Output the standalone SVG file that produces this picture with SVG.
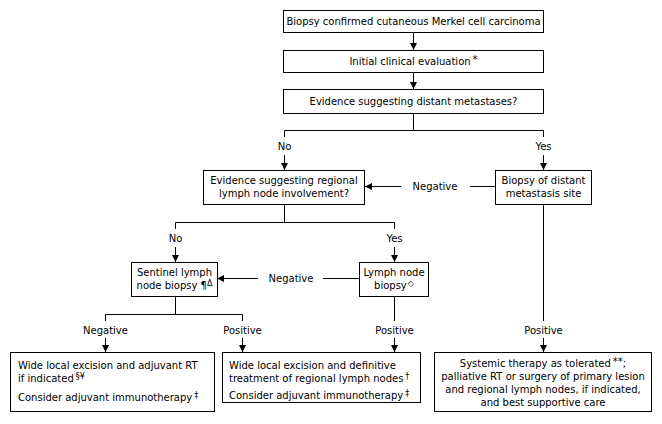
<svg xmlns="http://www.w3.org/2000/svg" width="662" height="424" viewBox="0 0 662 424">
<defs>
<marker id="ah" markerWidth="8" markerHeight="8" refX="7" refY="4" orient="auto" markerUnits="userSpaceOnUse">
<path d="M0,0.5 L7,4 L0,7.5 Z" fill="#000"/>
</marker>
<style>
text{font-family:"DejaVu Sans",Verdana,sans-serif;font-size:10px;fill:#000}
.c{text-anchor:middle}
.box{fill:#fff;stroke:#000;stroke-width:1}
.ln{fill:none;stroke:#000;stroke-width:1}
.ar{fill:none;stroke:#000;stroke-width:1;marker-end:url(#ah)}
.sup{font-size:8px}
</style>
</defs>
<rect width="662" height="424" fill="#fff"/>
<g id="connectors">
<line class="ar" x1="413.5" y1="32" x2="413.5" y2="50"/>
<line class="ar" x1="413.5" y1="72" x2="413.5" y2="89"/>
<polyline class="ln" points="413.5,113 413.5,130.5 284.5,130.5 284.5,137"/>
<polyline class="ln" points="413.5,130.5 543.5,130.5 543.5,137"/>
<line class="ar" x1="284.5" y1="155" x2="284.5" y2="170"/>
<line class="ar" x1="543.5" y1="155" x2="543.5" y2="170"/>
<line class="ln" x1="495" y1="186.5" x2="470" y2="186.5"/>
<line class="ar" x1="401" y1="186.5" x2="365" y2="186.5"/>
<polyline class="ln" points="284.5,204 284.5,222.5 175.5,222.5 175.5,229"/>
<polyline class="ln" points="284.5,222.5 394.5,222.5 394.5,229"/>
<line class="ar" x1="175.5" y1="247" x2="175.5" y2="262"/>
<line class="ar" x1="394.5" y1="247" x2="394.5" y2="262"/>
<line class="ln" x1="359" y1="278.5" x2="323" y2="278.5"/>
<line class="ar" x1="258" y1="278.5" x2="217" y2="278.5"/>
<polyline class="ln" points="175.5,296 175.5,314.5 105.5,314.5 105.5,321"/>
<polyline class="ln" points="175.5,314.5 242.5,314.5 242.5,321"/>
<line class="ln" x1="394.5" y1="296" x2="394.5" y2="321"/>
<line class="ln" x1="543.5" y1="204" x2="543.5" y2="321"/>
<line class="ar" x1="105.5" y1="338" x2="105.5" y2="352"/>
<line class="ar" x1="242.5" y1="338" x2="242.5" y2="352"/>
<line class="ar" x1="394.5" y1="338" x2="394.5" y2="352"/>
<line class="ar" x1="543.5" y1="338" x2="543.5" y2="352"/>
<text class="c" x="284.5" y="150">No</text>
<text class="c" x="543.5" y="150">Yes</text>
<text class="c" x="435" y="190">Negative</text>
<text class="c" x="175.5" y="242">No</text>
<text class="c" x="394.5" y="242">Yes</text>
<text class="c" x="291" y="282">Negative</text>
<text class="c" x="105.5" y="334">Negative</text>
<text class="c" x="242.5" y="334">Positive</text>
<text class="c" x="394.5" y="334">Positive</text>
<text class="c" x="543.5" y="334">Positive</text>
</g>
<g id="n1">
<rect class="box" x="283.5" y="10.5" width="260" height="22"/>
<text class="c" x="413.5" y="25">Biopsy confirmed cutaneous Merkel cell carcinoma</text>
</g>
<g id="n2">
<rect class="box" x="283.5" y="50.5" width="260" height="22"/>
<text class="c" x="413.5" y="65">Initial clinical evaluation<tspan dx="2" dy="-2">*</tspan></text>
</g>
<g id="n3">
<rect class="box" x="283.5" y="89.5" width="260" height="24"/>
<text class="c" x="413.5" y="105">Evidence suggesting distant metastases?</text>
</g>
<g id="n4">
<rect class="box" x="203.5" y="170.5" width="161" height="34"/>
<text class="c" x="284" y="184">Evidence suggesting regional</text>
<text class="c" x="284" y="197">lymph node involvement?</text>
</g>
<g id="n5">
<rect class="box" x="495.5" y="170.5" width="96" height="34"/>
<text class="c" x="543.5" y="184">Biopsy of distant</text>
<text class="c" x="543.5" y="197">metastasis site</text>
</g>
<g id="n6">
<rect class="box" x="131.5" y="262.5" width="86" height="34"/>
<text class="c" x="174.5" y="276">Sentinel lymph</text>
<text class="c" x="174.5" y="289">node biopsy ¶<tspan class="sup" dy="-3">Δ</tspan></text>
</g>
<g id="n7">
<rect class="box" x="359.5" y="262.5" width="69" height="34"/>
<text class="c" x="394" y="276">Lymph node</text>
<text class="c" x="394" y="289">biopsy<tspan class="sup" dx="1" dy="-3">◇</tspan></text>
</g>
<g id="n8">
<rect class="box" x="10.5" y="352.5" width="204" height="59"/>
<text x="18" y="369">Wide local excision and adjuvant RT</text>
<text x="18" y="382">if indicated<tspan class="sup" dx="2" dy="-3">§¥</tspan></text>
<text x="18" y="401">Consider adjuvant immunotherapy<tspan class="sup" dx="2" dy="-3">‡</tspan></text>
</g>
<g id="n9">
<rect class="box" x="222.5" y="352.5" width="198" height="50"/>
<text x="229" y="369">Wide local excision and definitive</text>
<text x="229" y="382">treatment of regional lymph nodes<tspan class="sup" dx="2" dy="-3">†</tspan></text>
<text x="229" y="399">Consider adjuvant immunotherapy<tspan class="sup" dx="2" dy="-3">‡</tspan></text>
</g>
<g id="n10">
<rect class="box" x="434.5" y="352.5" width="217" height="59"/>
<text class="c" x="543" y="367">Systemic therapy as tolerated<tspan dx="2" dy="-2">**</tspan><tspan dy="2">;</tspan></text>
<text class="c" x="543" y="380">palliative RT or surgery of primary lesion</text>
<text class="c" x="543" y="393">and regional lymph nodes, if indicated,</text>
<text class="c" x="543" y="406">and best supportive care</text>
</g>
</svg>
